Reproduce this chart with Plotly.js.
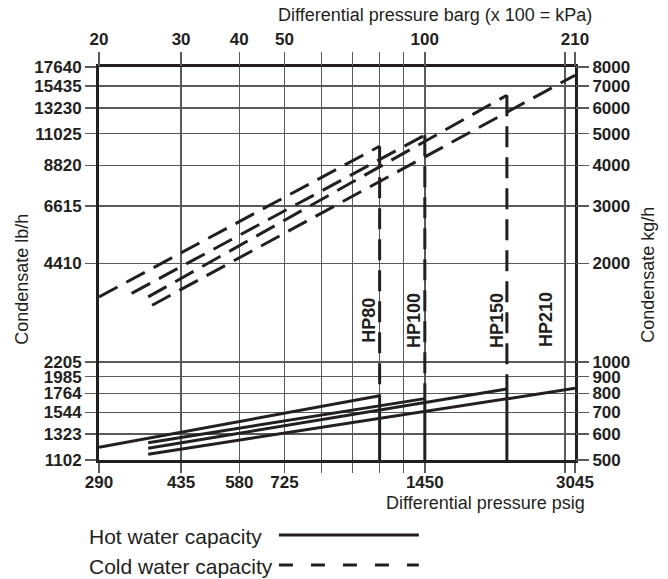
<!DOCTYPE html>
<html>
<head>
<meta charset="utf-8">
<script src="https://cdn.plot.ly/plotly-3.0.1.min.js"></script>
<style>
html,body{margin:0;padding:0;background:#fff;}
#chart{width:668px;height:579px;}
</style>
</head>
<body>
<div id="chart"></div>
<script>
// ---- data ----
const models        = ['HP80', 'HP100', 'HP150', 'HP210'];
const maxBarg       = [80, 100, 150, 210];          // max differential pressure, barg
// Cold water capacity (kg/h) lines
const coldStartBarg = [20, 23.5, 25.5, 26];
const coldStartKgh  = [1580, 1620, 1580, 1490];
const coldEndKgh    = [4575, 4945, 6555, 7550];
// Hot water capacity (kg/h) lines
const hotStartBarg  = [20, 25.5, 25.5, 25.5];
const hotStartKgh   = [547, 565, 543, 521];
const hotEndKgh     = [787, 771, 825, 829];
// axis ticks
const xTickBarg  = [20, 30, 40, 50, 100, 210];
const xTickPsig  = ['290', '435', '580', '725', '1450', '3045'];
const xGridBarg  = [60, 70, 80, 90, 200];
const yTickKgh   = [500, 600, 700, 800, 900, 1000, 2000, 3000, 4000, 5000, 6000, 7000, 8000];
const yTickLbh   = ['1102', '1323', '1544', '1764', '1985', '2205', '4410', '6615', '8820', '11025', '13230', '15435', '17640'];

// ---- styles ----
const INK = '#231f20';
const GRID = '#5a5a5a';
const FONT = 'Liberation Sans, Arial, Helvetica, sans-serif';
const labelXShift = [-11, -11, -10, -29];
const xMax = xTickBarg[xTickBarg.length - 1];
const xRange = [Math.log10(xTickBarg[0]), Math.log10(xMax)];
const yRange = [Math.log10(yTickKgh[0]), Math.log10(yTickKgh[yTickKgh.length - 1])];
const tickFont = {family: FONT, size: 17, color: INK, weight: 'bold'};

const traces = [];
models.forEach((m, i) => {
  // cold water capacity (dashed)
  traces.push({
    x: [coldStartBarg[i], maxBarg[i]], y: [coldStartKgh[i], coldEndKgh[i]],
    xaxis: 'x2', yaxis: 'y2', mode: 'lines', name: m + ' cold',
    line: {color: INK, width: 3, dash: '21px,10px'}, hoverinfo: 'skip', showlegend: false
  });
  // hot water capacity (solid)
  traces.push({
    x: [hotStartBarg[i], maxBarg[i]], y: [hotStartKgh[i], hotEndKgh[i]],
    mode: 'lines', name: m + ' hot',
    line: {color: INK, width: 3}, hoverinfo: 'skip', showlegend: false
  });
  if (maxBarg[i] < xMax) {
    // max pressure limit: dashed between capacities, solid below hot capacity
    traces.push({
      x: [maxBarg[i], maxBarg[i]], y: [coldEndKgh[i], hotEndKgh[i]],
      mode: 'lines', line: {color: INK, width: 3, dash: '21px,10px'}, hoverinfo: 'skip', showlegend: false
    });
    traces.push({
      x: [maxBarg[i], maxBarg[i]], y: [hotEndKgh[i], yTickKgh[0]],
      mode: 'lines', line: {color: INK, width: 3}, hoverinfo: 'skip', showlegend: false
    });
  }
});

const annotations = [
  {text: 'Differential pressure barg (x 100 = kPa)', xref: 'paper', yref: 'paper', x: 0.705, y: 1.132,
   xanchor: 'center', yanchor: 'middle', showarrow: false, font: {family: FONT, size: 18, color: INK}},
  {text: 'Differential pressure psig', xref: 'paper', yref: 'paper', x: 1.025, y: -0.109,
   xanchor: 'right', yanchor: 'middle', showarrow: false, font: {family: FONT, size: 18, color: INK}},
  {text: 'Condensate lb/h', xref: 'paper', yref: 'paper', x: -0.162, y: 0.461, textangle: -90,
   xanchor: 'center', yanchor: 'middle', showarrow: false, font: {family: FONT, size: 18, color: INK}},
  {text: 'Condensate kg/h', xref: 'paper', yref: 'paper', x: 1.153, y: 0.471, textangle: -90,
   xanchor: 'center', yanchor: 'middle', showarrow: false, font: {family: FONT, size: 18, color: INK}},
  {text: 'Hot water capacity', xref: 'paper', yref: 'paper', x: -0.025, y: -0.195,
   xanchor: 'left', yanchor: 'middle', showarrow: false, font: {family: FONT, size: 21, color: INK}},
  {text: 'Cold water capacity', xref: 'paper', yref: 'paper', x: -0.025, y: -0.272,
   xanchor: 'left', yanchor: 'middle', showarrow: false, font: {family: FONT, size: 21, color: INK}}
];
models.forEach((m, i) => {
  annotations.push({
    text: m, xref: 'x', yref: 'paper', x: Math.log10(maxBarg[i]), y: 0.356, xshift: labelXShift[i],
    textangle: -90, xanchor: 'center', yanchor: 'middle', showarrow: false,
    font: {family: FONT, size: 18, color: INK, weight: 'bold'}
  });
});

const shapes = [
  {type: 'line', xref: 'paper', yref: 'paper', x0: 0.378, x1: 0.672, y0: -0.191, y1: -0.191,
   line: {color: INK, width: 3}},
  {type: 'line', xref: 'paper', yref: 'paper', x0: 0.378, x1: 0.672, y0: -0.267, y1: -0.267,
   line: {color: INK, width: 3, dash: '14px,18px'}}
];

const layout = {
  width: 668, height: 579,
  margin: {l: 99, r: 93, t: 67, b: 119, pad: 0},
  paper_bgcolor: '#fff', plot_bgcolor: '#fff',
  font: {family: FONT, color: INK, size: 18},
  showlegend: false,
  xaxis: {
    type: 'log', range: xRange, tickmode: 'array', tickvals: xTickBarg, ticktext: xTickPsig,
    ticks: 'outside', ticklen: 10, tickwidth: 1.5, tickcolor: GRID, ticklabelstandoff: -5,
    showgrid: true, gridcolor: GRID, gridwidth: 1.5, zeroline: false,
    showline: true, linecolor: INK, linewidth: 3, mirror: true, tickfont: tickFont,
    minor: {tickmode: 'array', tickvals: xGridBarg, ticks: 'outside', ticklen: 10, tickwidth: 1.5,
            tickcolor: GRID, showgrid: true, gridcolor: GRID, gridwidth: 1.5},
    fixedrange: true
  },
  xaxis2: {
    type: 'log', range: xRange, overlaying: 'x', side: 'top', anchor: 'y',
    tickmode: 'array', tickvals: xTickBarg, ticktext: xTickBarg.map(String),
    ticks: 'outside', ticklen: 14, tickwidth: 1.5, tickcolor: GRID,
    showgrid: false, zeroline: false, showline: false, tickfont: tickFont,
    minor: {tickmode: 'array', tickvals: xGridBarg, ticks: 'outside', ticklen: 14, tickwidth: 1.5,
            tickcolor: GRID, showgrid: false},
    fixedrange: true
  },
  yaxis: {
    type: 'log', range: yRange, tickmode: 'array', tickvals: yTickKgh, ticktext: yTickLbh,
    ticks: 'outside', ticklen: 11, tickwidth: 1.5, tickcolor: GRID,
    showgrid: true, gridcolor: GRID, gridwidth: 1.5, zeroline: false,
    showline: true, linecolor: INK, linewidth: 3, mirror: true, tickfont: tickFont,
    fixedrange: true
  },
  yaxis2: {
    type: 'log', range: yRange, overlaying: 'y', side: 'right', anchor: 'x',
    tickmode: 'array', tickvals: yTickKgh, ticktext: yTickKgh.map(String),
    ticks: 'outside', ticklen: 13, tickwidth: 1.5, tickcolor: GRID,
    showgrid: false, zeroline: false, showline: false, tickfont: tickFont,
    fixedrange: true
  },
  annotations: annotations,
  shapes: shapes
};

Plotly.newPlot('chart', traces, layout, {staticPlot: true, displayModeBar: false});
</script>
</body>
</html>
